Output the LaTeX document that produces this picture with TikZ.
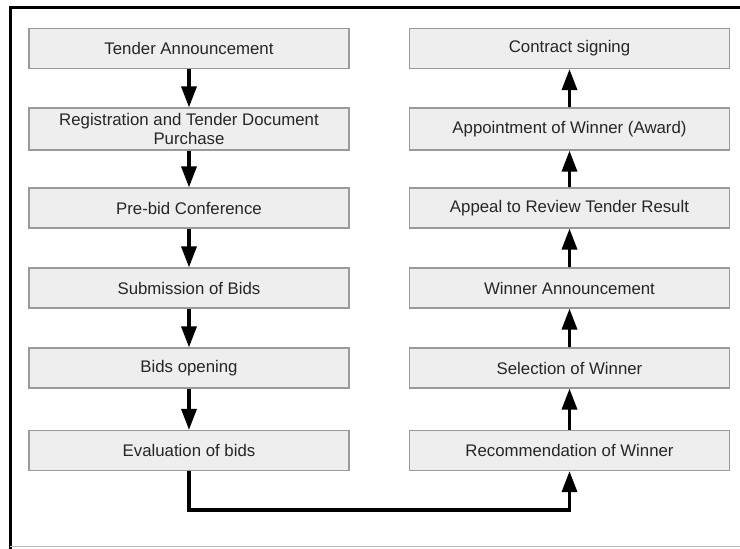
\documentclass[tikz,border=0pt]{standalone}
\usepackage{fontspec}
\setmainfont{Liberation Sans}
\usetikzlibrary{arrows.meta}
\definecolor{boxfill}{HTML}{EEEEEE}
\definecolor{boxedge}{HTML}{9A9A9A}
\definecolor{textcol}{HTML}{262626}
\definecolor{framegray}{HTML}{BBBBBB}
\begin{document}
\begin{tikzpicture}[x=1pt,y=-1pt,
  stepbox/.style={draw=boxedge, fill=boxfill, line width=1.2pt,
    minimum width=320pt, minimum height=40pt, inner sep=0pt,
    align=center, text=textcol, font=\fontsize{16.8}{19.5}\selectfont},
  flow/.style={line width=3.4pt, draw=black, -{Triangle[length=21pt,width=15pt]}}]
\useasboundingbox (0,0) rectangle (740,549);
\fill[white] (0,0) rectangle (740,549);
\draw[black, line width=3pt] (10,549) -- (10,7.5) -- (740,7.5);
\draw[framegray, line width=1pt] (10,546.5) -- (740,546.5);

\node[stepbox] (l1) at (189,48.5) {Tender Announcement};
\node[stepbox, minimum height=42pt] (l2) at (189,129) {Registration and Tender Document\\Purchase};
\node[stepbox] (l3) at (189,208) {Pre-bid Conference};
\node[stepbox] (l4) at (189,288) {Submission of Bids};
\node[stepbox] (l5) at (189,368) {Bids opening};
\node[stepbox] (l6) at (189,450.5) {Evaluation of bids};

\node[stepbox] (r1) at (569.5,48.5) {Contract signing};
\node[stepbox, minimum height=42pt] (r2) at (569.5,129) {Appointment of Winner (Award)};
\node[stepbox] (r3) at (569.5,208) {Appeal to Review Tender Result};
\node[stepbox] (r4) at (569.5,288) {Winner Announcement};
\node[stepbox] (r5) at (569.5,368) {Selection of Winner};
\node[stepbox] (r6) at (569.5,450.5) {Recommendation of Winner};

\draw[flow] (l1) -- (l2);
\draw[flow] (l2) -- (l3);
\draw[flow] (l3) -- (l4);
\draw[flow] (l4) -- (l5);
\draw[flow] (l5) -- (l6);

\draw[flow] (r6) -- (r5);
\draw[flow] (r5) -- (r4);
\draw[flow] (r4) -- (r3);
\draw[flow] (r3) -- (r2);
\draw[flow] (r2) -- (r1);

\draw[flow] (l6.south) -- ++(0,39) -| (r6.south);
\end{tikzpicture}
\end{document}
